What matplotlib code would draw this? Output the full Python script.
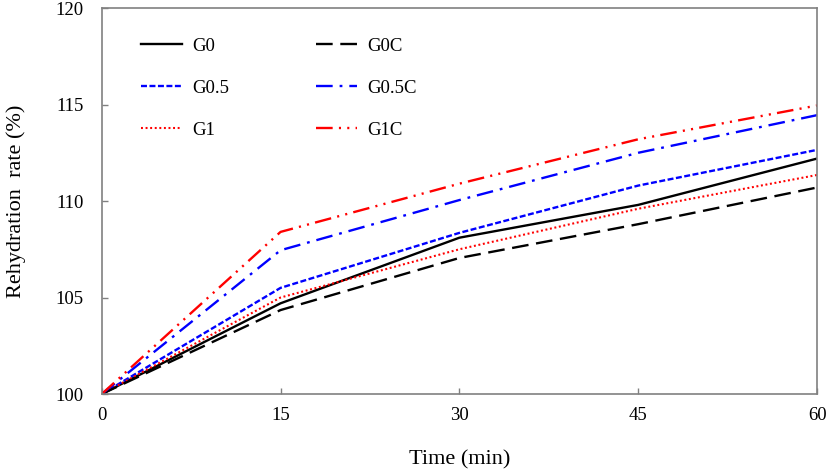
import matplotlib
matplotlib.use("Agg")
import matplotlib.pyplot as plt

plt.rcParams['font.family'] = ['Liberation Serif', 'DejaVu Serif']
plt.rcParams['lines.scale_dashes'] = False

# Daten (Zeit in min, Rehydratation in %)
time_min = [0, 15, 30, 45, 60]
g0 = [100, 104.7, 108.1, 109.8, 112.2]
g0_5 = [100, 105.5, 108.35, 110.8, 112.65]
g1 = [100, 105.0, 107.5, 109.6, 111.35]
g0c = [100, 104.35, 107.05, 108.8, 110.7]
g0_5c = [100, 107.45, 110.05, 112.5, 114.45]
g1c = [100, 108.4, 110.9, 113.2, 114.95]

fig = plt.figure(figsize=(8.27, 4.73), dpi=100)
ax = fig.add_axes([0.123, 0.167, 0.865, 0.816])

lw = 1.7
ax.plot(time_min, g0, color='black', lw=lw, label='G0')
ax.plot(time_min, g0_5, color='blue', lw=lw, dashes=(4.3, 1.8), label='G0.5')
ax.plot(time_min, g1, color='red', lw=1.5, dashes=(1.4, 1.9), label='G1')
ax.plot(time_min, g0c, color='black', lw=lw, dashes=(12, 5.5), label='G0C')
ax.plot(time_min, g0_5c, color='blue', lw=lw, dashes=(12, 5, 2, 5), label='G0.5C')
ax.plot(time_min, g1c, color='red', lw=lw, dashes=(12, 4.5, 1.5, 4.5, 1.5, 4.5), label='G1C')

ax.set_xlim(0, 60)
ax.set_ylim(100, 120)
ax.set_xticks([0, 15, 30, 45, 60])
ax.set_yticks([100, 105, 110, 115, 120])

for s in ax.spines.values():
    s.set_color('#808080')
    s.set_linewidth(1.2)
ax.tick_params(axis='both', direction='in', length=4, width=1, color='#808080',
               labelsize=13.5)
ax.tick_params(axis='x', pad=9)
ax.tick_params(axis='y', pad=13)

ax.set_xlabel('Time (min)', fontsize=16, labelpad=19)
ax.set_ylabel('Rehydration  rate (%)', fontsize=16, labelpad=21)

ax.legend(ncol=2, frameon=False, loc='upper left', bbox_to_anchor=(0.055, 0.923),
          borderaxespad=0, borderpad=0, fontsize=13.5, handlelength=2.2,
          handletextpad=0.55, columnspacing=4.6, labelspacing=1.33)

fig.savefig('out.png', dpi=100)
